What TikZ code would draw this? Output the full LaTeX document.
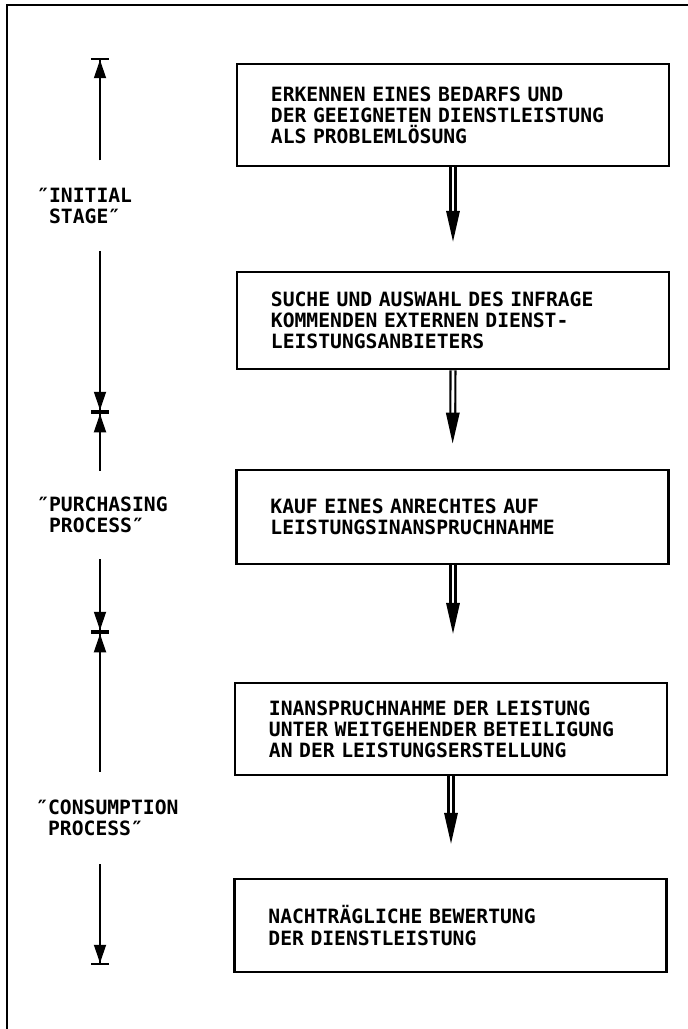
\documentclass[tikz,border=0pt]{standalone}
\usepackage{fontspec}
\usetikzlibrary{arrows.meta}
\newfontfamily\monofamily{DejaVu Sans Mono}[UprightFont=*-Bold]
\newcommand{\stepfont}{\monofamily\fontsize{14pt}{15pt}\selectfont}
\tikzset{
  stepbox/.style={draw, line width=1.8pt, minimum width=307pt, text width=259pt,
    align=left, inner xsep=0pt, inner ysep=0pt, font=\stepfont},
  flow/.style={double, line width=1.5pt, double distance=2pt,
    -{Triangle[width=9.5pt,length=22pt]}},
  span/.style={line width=1.4pt,
    -{Triangle[width=8.5pt,length=13pt,sep=0pt]Bar[width=13pt,line width=1.4pt]}},
  stage/.style={font=\stepfont, align=left, inner sep=0pt, anchor=west},
}
\begin{document}
\begin{tikzpicture}[x=0.025cm,y=-0.025cm]
    \useasboundingbox (0,0) rectangle (688,1029);
    % frame
    \draw[line width=1.8pt] (688,5) -- (7,5) -- (7,1029);
    % process steps
    \node[stepbox, minimum height=72.5pt] (erkennen) at (453,115)
        {ERKENNEN EINES BEDARFS UND\\DER GEEIGNETEN DIENSTLEISTUNG\\ALS PROBLEMLÖSUNG};
    \node[stepbox, minimum height=69pt] (suche) at (453,320.5)
        {SUCHE UND AUSWAHL DES INFRAGE\\KOMMENDEN EXTERNEN DIENST-\\LEISTUNGSANBIETERS};
    \node[stepbox, minimum height=67pt] (kauf) at (452.5,517)
        {KAUF EINES ANRECHTES AUF\\LEISTUNGSINANSPRUCHNAHME};
    \node[stepbox, minimum height=65.5pt] (nahme) at (451,729)
        {INANSPRUCHNAHME DER LEISTUNG\\UNTER WEITGEHENDER BETEILIGUNG\\AN DER LEISTUNGSERSTELLUNG};
    \node[stepbox, minimum height=66pt] (bewertung) at (450.5,925.5)
        {NACHTRÄGLICHE BEWERTUNG\\DER DIENSTLEISTUNG};
    \draw[flow, shorten >=20.6pt] (erkennen.south) -- (suche.north);
    \draw[flow, shorten >=17.8pt] (suche.south) -- (kauf.north);
    \draw[flow, shorten >=34pt] (kauf.south -| suche.south) -- (nahme.north -| suche.south);
    \draw[flow, shorten >=24.2pt] (nahme.south) -- (bewertung.north -| nahme.south);
    % stages on the left
    \coordinate (s0) at (100,58);
    \coordinate (s1) at (100,412);
    \coordinate (s2) at (100,632);
    \coordinate (s3) at (100,965);
    \node[stage] (initial) at (37,206) {″INITIAL\\\phantom{″}STAGE″};
    \node[stage] (purchasing) at (37,514.5) {″PURCHASING\\\phantom{″}PROCESS″};
    \node[stage] (consumption) at (36,818) {″CONSUMPTION\\\phantom{″}PROCESS″};
    \draw[span, shorten <=19.5pt] (initial.north -| s0) -- (s0);
    \draw[span, shorten <=19pt] (initial.south -| s1) -- (s1);
    \draw[span, shorten <=18pt] (purchasing.north -| s1) -- (s1);
    \draw[span, shorten <=19pt] (purchasing.south -| s2) -- (s2);
    \draw[span, shorten <=20pt] (consumption.north -| s2) -- (s2);
    \draw[span, shorten <=20pt] (consumption.south -| s3) -- (s3);
\end{tikzpicture}
\end{document}
